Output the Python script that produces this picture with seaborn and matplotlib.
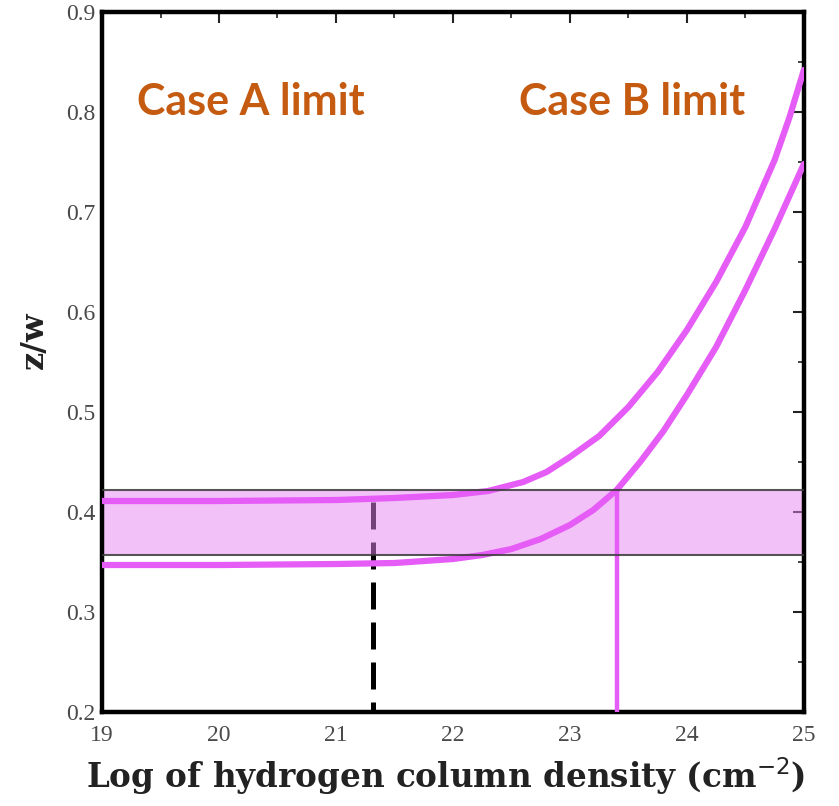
import numpy as np
import pandas as pd
import matplotlib
matplotlib.use("Agg")
import matplotlib.pyplot as plt
import seaborn as sns
from matplotlib.ticker import MultipleLocator

# ---- data ----
upper_x = [19.0, 20.0, 21.0, 21.5, 22.0, 22.3, 22.6, 22.8, 23.0, 23.25, 23.5, 23.75,
           24.0, 24.25, 24.5, 24.75, 24.875, 25.0]
upper_y = [0.411, 0.411, 0.412, 0.414, 0.417, 0.421, 0.430, 0.440, 0.455, 0.476, 0.505,
           0.540, 0.582, 0.630, 0.685, 0.752, 0.794, 0.842]
lower_x = [19.0, 20.0, 21.0, 21.5, 22.0, 22.25, 22.5, 22.75, 23.0, 23.2, 23.4, 23.6,
           23.8, 24.0, 24.25, 24.5, 24.75, 25.0]
lower_y = [0.347, 0.347, 0.348, 0.349, 0.353, 0.357, 0.363, 0.373, 0.387, 0.402, 0.422,
           0.450, 0.481, 0.517, 0.565, 0.622, 0.683, 0.748]
band_low, band_high = 0.357, 0.422
case_b_x = 23.40
case_a_x, case_a_top = 21.32, 0.41
x_ticks = [19, 20, 21, 22, 23, 24, 25]
y_ticks = [0.2, 0.3, 0.4, 0.5, 0.6, 0.7, 0.8, 0.9]

sns.set_theme(style="white")
plt.rcParams['font.family'] = ['DejaVu Serif']

fig = plt.figure(figsize=(8.39, 8.06), dpi=100)
ax = fig.add_axes([0.1216, 0.1166, 0.8365, 0.8685])

magenta = '#e65cf6'

# dashed Case A marker (under the translucent band)
ax.plot([case_a_x, case_a_x], [case_a_top, 0.2], color='black', lw=3.6,
        dashes=(5.4, 2.6), zorder=1)

ax.axhspan(band_low, band_high, color=(0.906, 0.522, 0.945), alpha=0.5, lw=0, zorder=2)

df = pd.concat([
    pd.DataFrame({'x': upper_x, 'y': upper_y, 's': 'upper'}),
    pd.DataFrame({'x': lower_x, 'y': lower_y, 's': 'lower'}),
])
sns.lineplot(data=df, x='x', y='y', units='s', estimator=None, color=magenta,
             lw=4.5, ax=ax, zorder=3, legend=False)

ax.plot([case_b_x, case_b_x], [0.2, band_high], color=magenta, lw=3.2, zorder=3)

ax.axhline(band_low, color='#3a3a3a', lw=1.5, alpha=0.85, zorder=4)
ax.axhline(band_high, color='#3a3a3a', lw=1.5, alpha=0.85, zorder=4)

ax.set_xlim(19, 25)
ax.set_ylim(0.2, 0.9)
ax.set_xticks(x_ticks)
ax.set_yticks(y_ticks)
ax.set_xticklabels([str(t) for t in x_ticks], family=['Liberation Serif'])
ax.set_yticklabels([f"{t:.1f}" for t in y_ticks], family=['Liberation Serif'])
ax.xaxis.set_minor_locator(MultipleLocator(0.5))
ax.yaxis.set_minor_locator(MultipleLocator(0.05))
ax.tick_params(which='major', direction='in', length=8, width=1.5, top=True, right=True,
               labelsize=17, labelcolor='#4a4a4a', color='#222222')
ax.tick_params(which='minor', direction='in', length=4, width=1.2, top=True, right=True,
               color='#222222')
ax.tick_params(axis='x', pad=9)
ax.tick_params(axis='y', pad=5)
for sp in ax.spines.values():
    sp.set_linewidth(3.2)
    sp.set_color('black')

ax.set_xlabel('Log of hydrogen column density (cm$^{-2}$)', fontsize=23.5,
              fontweight='bold', color='#222222')
ax.xaxis.set_label_coords(0.49, -0.062)
ax.set_ylabel('z/w', fontsize=23, fontweight='bold', color='#222222')
ax.yaxis.set_label_coords(-0.074, 0.531)

orange = '#c55a11'
ax.text(19.3, 0.81, 'Case A limit', fontsize=31, fontweight='bold', color=orange,
        family=['Lato', 'DejaVu Sans'], va='center', ha='left')
ax.text(24.50, 0.81, 'Case B limit', fontsize=31, fontweight='bold', color=orange,
        family=['Lato', 'DejaVu Sans'], va='center', ha='right')

fig.savefig('out.png', dpi=100)
